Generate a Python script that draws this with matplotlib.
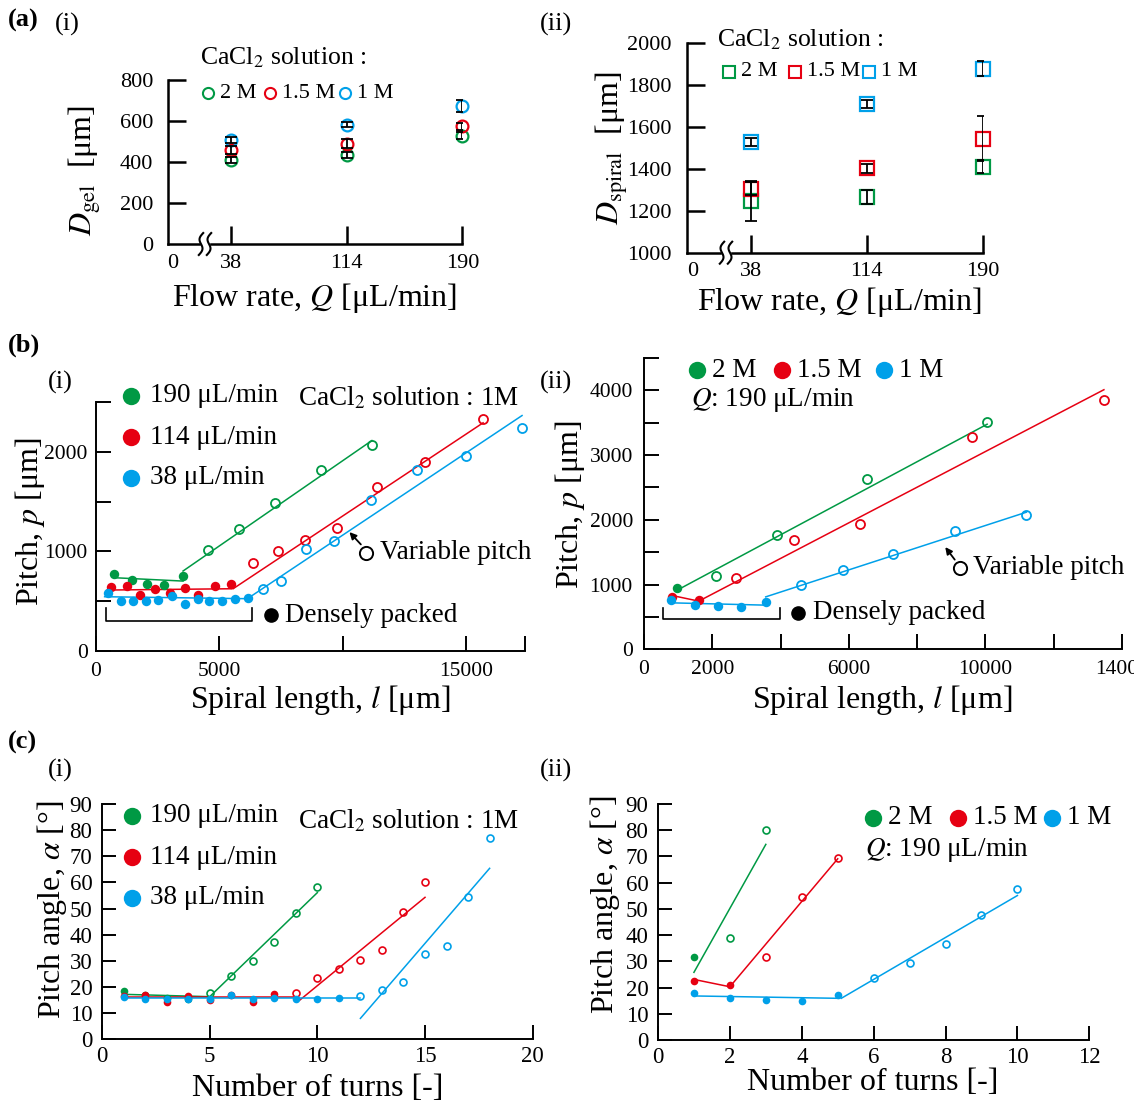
import matplotlib
matplotlib.use("Agg")
import matplotlib.pyplot as plt
import numpy as np
from matplotlib.lines import Line2D

plt.rcParams["font.family"] = ["Liberation Serif", "DejaVu Serif"]
plt.rcParams["mathtext.fontset"] = "stix"

W, H = 1134, 1108
GREEN, RED, BLUE = "#009944", "#E60012", "#00A0E9"

# ---------------- data: (a) diameters vs flow rate
Q = [38, 114, 190]
dgel_2M, dgel_2M_err = [408, 433, 529], [15, 15, 15]
dgel_15M, dgel_15M_err = [457, 490, 574], [20, 20, 18]
dgel_1M, dgel_1M_err = [509, 582, 674], [15, 12, 30]

dsp_2M, dsp_2M_err = [1245, 1266, 1411], [95, 35, 30]
dsp_15M, dsp_15M_err = [1306, 1402, 1544], [30, 20, 107]
dsp_1M, dsp_1M_err = [1527, 1709, 1878], [20, 20, 35]

# ---------------- data: (b)(i) pitch vs spiral length, 1 M CaCl2
l190_dense, p190_dense = [730, 1440, 2080, 2760, 3530], [776, 712, 675, 662, 752]
l190_var, p190_var = [4550, 5800, 7280, 9120, 11190], [1013, 1227, 1481, 1819, 2070]
fit190_l = [[730, 3530], [3530, 11190]]
fit190_p = [[736, 702], [803, 2113]]

l114_dense = [590, 1240, 1790, 2390, 2990, 3620, 4150, 4830, 5490]
p114_dense = [645, 649, 558, 619, 579, 635, 558, 652, 669]
l114_var = [6380, 7390, 8480, 9760, 11400, 13350, 15700]
p114_var = [879, 1003, 1114, 1234, 1642, 1899, 2334]
fit114_l = [[450, 5490], [5560, 15700]]
fit114_p = [[612, 625], [625, 2291]]

l38_dense = [490, 1030, 1520, 2010, 2530, 3070, 3590, 4130, 4600, 5110, 5630, 6150]
p38_dense = [578, 502, 502, 502, 508, 552, 475, 525, 502, 502, 518, 535]
l38_var = [6790, 7490, 8520, 9650, 11170, 13000, 15000, 17280]
p38_var = [619, 702, 1020, 1103, 1515, 1822, 1956, 2240]
fit38_l = [[350, 6200], [6200, 17280]]
fit38_p = [[545, 525], [535, 2364]]

# ---------------- data: (b)(ii) pitch vs spiral length, Q = 190
lb2_dense, pb2_dense = [970], [949]
lb2_var, pb2_var = [2105, 3900, 6520, 10050], [1138, 1769, 2626, 3513]
fitb2_l, fitb2_p = [[970, 10050]], [[913, 3477]]

lb15_dense, pb15_dense = [824, 1604], [810, 769]
lb15_var, pb15_var = [2700, 4400, 6340, 9600, 13470], [1097, 1692, 1933, 3282, 3856]
fitb15_l, fitb15_p = [[824, 1604], [1604, 13470]], [[831, 744], [744, 4010]]

lb1_dense, pb1_dense = [780, 1490, 2170, 2840, 3565], [759, 687, 667, 651, 733]
lb1_var, pb1_var = [4590, 5815, 7300, 9120, 11200], [1000, 1231, 1472, 1820, 2067]
fitb1_l, fitb1_p = [[780, 3565], [3565, 11200]], [[718, 682], [810, 2118]]

# ---------------- data: (c)(i) pitch angle vs number of turns, 1 M
a190 = [18.6, 17.0, 15.7, 15.4, 17.6, 24.2, 30.1, 37.4, 48.2, 58.2]
a190_dense = 4
fitc190_n, fitc190_a = [[1, 5], [5, 10]], [[17.2, 16.3], [16.3, 56.1]]
a114 = [16.6, 17.0, 14.3, 16.6, 15.1, 16.8, 14.3, 17.2, 17.9, 23.5, 27.0, 30.4, 34.2, 48.6, 60.1]
a114_dense = 8
fitc114_n, fitc114_a = [[1, 9], [9.2, 15]], [[16.3, 16.3], [15.1, 54.3]]
a38 = [16.3, 15.3, 15.6, 15.6, 15.5, 17.0, 15.6, 15.7, 15.3, 15.3, 15.7, 16.6,
       18.9, 21.9, 32.7, 35.8, 54.3, 77.0]
a38_dense = 11
fitc38_n, fitc38_a = [[1, 12], [12, 18]], [[15.7, 15.7], [8.0, 65.4]]

# ---------------- data: (c)(ii) pitch angle vs number of turns, Q = 190
ac2 = [31.6, 38.9, 80.0]
ac2_dense = 1
fitc2_n, fitc2_a = [[1, 3]], [[25.8, 74.6]]
ac15 = [22.5, 21.1, 31.6, 54.5, 69.4]
ac15_dense = 2
fitc15_n, fitc15_a = [[1, 2], [2, 5]], [[23.1, 20.3], [20.3, 69.1]]
ac1 = [18.0, 16.0, 15.2, 14.9, 17.2, 23.8, 29.4, 36.6, 47.6, 57.6]
ac1_dense = 5
fitc1_n, fitc1_a = [[1, 5], [5.1, 10]], [[16.8, 15.9], [15.9, 55.1]]

fig = plt.figure(figsize=(W / 100, H / 100), dpi=100)


def add_ax(x0, y0, x1, y1):
    ax = fig.add_axes([x0 / W, 1 - y1 / H, (x1 - x0) / W, (y1 - y0) / H])
    ax.spines[["top", "right"]].set_visible(False)
    ax.patch.set_visible(False)
    return ax


def txt(x, y, s, size, **kw):
    kw.setdefault("va", "center")
    fig.text(x / W, 1 - y / H, s, fontsize=size, **kw)


def dot(x, y, color, ms, filled=True, marker="o"):
    fig.add_artist(Line2D([x / W], [1 - y / H], marker=marker, ls="none", ms=ms,
                          mec=color, mfc=color if filled else "none", mew=1.5,
                          transform=fig.transFigure))


def axis_break(x, y):
    t = np.linspace(-1, 1, 30)
    fig.add_artist(plt.Rectangle(((x - 4) / W, 1 - (y + 2) / H), 8 / W, 4 / H,
                                 color="white", transform=fig.transFigure, zorder=5))
    for dx in (-4, 4):
        xs = x + dx - 2.2 * t + 2.5 * np.sin(np.pi * t)
        ys = y + 11 * t
        fig.add_artist(Line2D(xs / W, 1 - ys / H, color="k", lw=1.5,
                              transform=fig.transFigure, zorder=6))


def series(ax, x, y, n_dense, color, ms, ms_open, mew):
    ax.plot(x[:n_dense], y[:n_dense], "o", color=color, ms=ms, mew=0, zorder=3, clip_on=False)
    ax.plot(x[n_dense:], y[n_dense:], "o", mfc="none", mec=color, ms=ms_open, mew=mew,
            zorder=3, clip_on=False)


def fits(ax, xs, ys, color):
    for fx, fy in zip(xs, ys):
        ax.plot(fx, fy, "-", color=color, lw=1.1, zorder=2)


# ======================= (a)(i)
ax = add_ax(168.3, 80, 462.3, 244)
for v, e, c in [(dgel_2M, dgel_2M_err, GREEN), (dgel_15M, dgel_15M_err, RED),
                (dgel_1M, dgel_1M_err, BLUE)]:
    ax.plot(Q, v, "o", mfc="none", mec=c, ms=8.5, mew=1.6, zorder=2, clip_on=False)
    ax.errorbar(Q, v, yerr=e, fmt="none", ecolor="k", elinewidth=1.3, capsize=4,
                capthick=1.3, zorder=3)
ax.set_xlim(-3, 190)
ax.set_ylim(0, 800)
ax.set_xticks([0, 38, 114, 190], ["0", "38", "114", "190"])
ax.set_yticks([0, 200, 400, 600, 800])
ax.tick_params(direction="in", length=13, width=1.8, labelsize=16)
ax.tick_params(axis="x", pad=7)
ax.tick_params(axis="y", pad=11)
ax.xaxis.get_major_ticks()[0].tick1line.set_visible(False)
ax.yaxis.get_major_ticks()[0].tick1line.set_visible(False)
for s in ax.spines.values():
    s.set_linewidth(1.8)
axis_break(205, 244)

# ======================= (a)(ii)
ax = add_ax(686.7, 43, 982.7, 252.7)
for v, e, c in [(dsp_2M, dsp_2M_err, GREEN), (dsp_15M, dsp_15M_err, RED),
                (dsp_1M, dsp_1M_err, BLUE)]:
    ax.plot(Q, v, "s", mfc="none", mec=c, ms=9.5, mew=1.6, zorder=2, clip_on=False)
    ax.errorbar(Q, v, yerr=e, fmt="none", ecolor="k", elinewidth=1.3, capsize=4,
                capthick=1.3, zorder=3)
ax.set_xlim(-4, 190)
ax.set_ylim(1000, 2000)
ax.set_xticks([0, 38, 114, 190], ["0", "38", "114", "190"])
ax.set_yticks(np.arange(1000, 2001, 200))
ax.tick_params(direction="in", length=13, width=1.8, labelsize=16)
ax.tick_params(axis="x", pad=7)
ax.tick_params(axis="y", pad=11)
ax.xaxis.get_major_ticks()[0].tick1line.set_visible(False)
ax.yaxis.get_major_ticks()[0].tick1line.set_visible(False)
for s in ax.spines.values():
    s.set_linewidth(1.8)
axis_break(726, 252.7)

# ======================= (b)(i)
ax = add_ax(96, 402, 525, 651)
series(ax, l190_dense + l190_var, p190_dense + p190_var, len(l190_dense), GREEN, 6.8, 6.5, 1.3)
series(ax, l114_dense + l114_var, p114_dense + p114_var, len(l114_dense), RED, 6.8, 6.5, 1.3)
series(ax, l38_dense + l38_var, p38_dense + p38_var, len(l38_dense), BLUE, 6.8, 6.5, 1.3)
fits(ax, fit190_l, fit190_p, GREEN)
fits(ax, fit114_l, fit114_p, RED)
fits(ax, fit38_l, fit38_p, BLUE)
ax.plot([422, 422, 6308, 6308], [435, 301, 301, 435], "k-", lw=1.2)
ax.plot([7110], [358], "ko", ms=9.5)
ax.text(7650, 358, "Densely packed", fontsize=19.5, va="center")
ax.plot([10954], [986], "o", mfc="none", mec="k", ms=9.5, mew=1.4)
ax.text(11500, 986, "Variable pitch", fontsize=19.5, va="center")
ax.annotate("", xy=(10278, 1194), xytext=(10743, 1070),
            arrowprops=dict(arrowstyle="-|>", color="k", lw=1.3, mutation_scale=10,
                            shrinkA=0, shrinkB=0))
ax.set_xlim(0, 17400)
ax.set_ylim(0, 2500)
ax.set_xticks([0, 5000, 10000, 15000, 17400], ["0", "5000", "", "15000", ""])
ax.set_yticks(np.arange(0, 2501, 500), ["0", "", "1000", "", "2000", ""])
ax.tick_params(direction="in", length=11, width=1.4, labelsize=15.5)
ax.tick_params(axis="x", pad=8)
ax.tick_params(axis="y", pad=6)
for s in ax.spines.values():
    s.set_linewidth(1.4)

# ======================= (b)(ii)
ax = add_ax(644, 358, 1122, 649.3)
series(ax, lb2_dense + lb2_var, pb2_dense + pb2_var, len(lb2_dense), GREEN, 6.8, 6.5, 1.3)
series(ax, lb15_dense + lb15_var, pb15_dense + pb15_var, len(lb15_dense), RED, 6.8, 6.5, 1.3)
series(ax, lb1_dense + lb1_var, pb1_dense + pb1_var, len(lb1_dense), BLUE, 6.8, 6.5, 1.3)
fits(ax, fitb2_l, fitb2_p, GREEN)
fits(ax, fitb15_l, fitb15_p, RED)
fits(ax, fitb1_l, fitb1_p, BLUE)
ax.plot([557, 557, 3988, 3988], [641, 462, 462, 641], "k-", lw=1.2)
ax.plot([4512], [564], "ko", ms=9.5)
ax.text(4950, 564, "Densely packed", fontsize=19.5, va="center")
ax.plot([9268], [1256], "o", mfc="none", mec="k", ms=9.5, mew=1.4)
ax.text(9650, 1256, "Variable pitch", fontsize=19.5, va="center")
ax.annotate("", xy=(8823, 1579), xytext=(9101, 1385),
            arrowprops=dict(arrowstyle="-|>", color="k", lw=1.3, mutation_scale=10,
                            shrinkA=0, shrinkB=0))
ax.set_xlim(0, 14000)
ax.set_ylim(0, 4500)
ax.set_xticks(np.arange(0, 14001, 2000),
              ["0", "2000", "", "6000", "", "10000", "", "14000"])
ax.set_yticks(np.arange(0, 4501, 500),
              ["0", "", "1000", "", "2000", "", "3000", "", "4000", ""])
ax.tick_params(direction="in", length=11, width=1.4, labelsize=15.5)
ax.tick_params(axis="x", pad=8)
ax.tick_params(axis="y", pad=8)
for s in ax.spines.values():
    s.set_linewidth(1.4)

# ======================= (c)(i)
ax = add_ax(102, 804, 532.7, 1039.3)
series(ax, list(range(1, len(a190) + 1)), a190, a190_dense, GREEN, 5.5, 5, 1.2)
series(ax, list(range(1, len(a114) + 1)), a114, a114_dense, RED, 5.5, 5, 1.2)
series(ax, list(range(1, len(a38) + 1)), a38, a38_dense, BLUE, 5.5, 5, 1.2)
fits(ax, fitc190_n, fitc190_a, GREEN)
fits(ax, fitc114_n, fitc114_a, RED)
fits(ax, fitc38_n, fitc38_a, BLUE)
ax.set_xlim(0, 20)
ax.set_ylim(0, 90)
ax.set_xticks(np.arange(0, 21, 5))
ax.set_yticks(np.arange(0, 91, 10))
ax.tick_params(direction="in", length=10, width=1.4, labelsize=16.5)
ax.tick_params(axis="x", pad=5)
ax.tick_params(axis="y", pad=7)
for s in ax.spines.values():
    s.set_linewidth(1.4)

# ======================= (c)(ii)
ax = add_ax(658, 804, 1089.3, 1040)
series(ax, list(range(1, len(ac2) + 1)), ac2, ac2_dense, GREEN, 5.5, 5, 1.2)
series(ax, list(range(1, len(ac15) + 1)), ac15, ac15_dense, RED, 5.5, 5, 1.2)
series(ax, list(range(1, len(ac1) + 1)), ac1, ac1_dense, BLUE, 5.5, 5, 1.2)
fits(ax, fitc2_n, fitc2_a, GREEN)
fits(ax, fitc15_n, fitc15_a, RED)
fits(ax, fitc1_n, fitc1_a, BLUE)
ax.set_xlim(0, 12)
ax.set_ylim(0, 90)
ax.set_xticks(np.arange(0, 13, 2))
ax.set_yticks(np.arange(0, 91, 10))
ax.tick_params(direction="in", length=10, width=1.4, labelsize=16.5)
ax.tick_params(axis="x", pad=5)
ax.tick_params(axis="y", pad=7)
for s in ax.spines.values():
    s.set_linewidth(1.4)

# ======================= panel labels
txt(8, 20, "(a)", 19, weight="bold")
txt(55, 24, "(i)", 19)
txt(540, 24, "(ii)", 19)
txt(8, 345, "(b)", 19, weight="bold")
txt(48, 382, "(i)", 19)
txt(540, 382, "(ii)", 19)
txt(8, 742, "(c)", 19, weight="bold")
txt(48, 770, "(i)", 19)
txt(540, 770, "(ii)", 19)

# axis titles
txt(315, 298, r"Flow rate, $Q$ [μL/min]", 23, ha="center")
txt(840, 302, r"Flow rate, $Q$ [μL/min]", 23, ha="center")
txt(85, 170, r"$D_{\mathrm{gel}}$  [μm]", 23, ha="center", rotation=90)
txt(612, 148, r"$D_{\mathrm{spiral}}$  [μm]", 23, ha="center", rotation=90)
txt(320, 700, r"Spiral length, $l$ [μm]", 23, ha="center")
txt(882, 700, r"Spiral length, $l$ [μm]", 23, ha="center")
txt(30, 522, r"Pitch, $p$ [μm]", 23, ha="center", rotation=90)
txt(570, 505, r"Pitch, $p$ [μm]", 23, ha="center", rotation=90)
txt(318, 1088, "Number of turns [-]", 23, ha="center")
txt(873, 1083, "Number of turns [-]", 23, ha="center")
txt(52, 910, r"Pitch angle, $\alpha$ [°]", 23, ha="center", rotation=90)
txt(605, 905, r"Pitch angle, $\alpha$ [°]", 23, ha="center", rotation=90)

# legends (a)
txt(200, 58, r"CaCl$_2$ solution :", 18.5)
for x, lab, c in [(208, "2 M", GREEN), (270, "1.5 M", RED), (345, "1 M", BLUE)]:
    dot(x, 93, c, 8, filled=False)
    txt(x + 12, 93, lab, 16)
txt(717, 40, r"CaCl$_2$ solution :", 18.5)
for x, lab, c in [(729, "2 M", GREEN), (795, "1.5 M", RED), (869, "1 M", BLUE)]:
    dot(x, 72, c, 9, filled=False, marker="s")
    txt(x + 12, 72, lab, 16)

# legends (b)
for y, lab, c in [(396, "190 μL/min", GREEN), (437, "114 μL/min", RED), (478, "38 μL/min", BLUE)]:
    dot(131, y, c, 11)
    txt(150, y, lab, 19.5)
txt(298, 398, r"CaCl$_2$ solution : 1M", 19.5)
for x, lab, c in [(697, "2 M", GREEN), (782, "1.5 M", RED), (884, "1 M", BLUE)]:
    dot(x, 370, c, 11)
    txt(x + 15, 370, lab, 19.5)
txt(691, 400, r"$Q$: 190 μL/min", 19.5)

# legends (c)
for y, lab, c in [(816, "190 μL/min", GREEN), (857, "114 μL/min", RED), (898, "38 μL/min", BLUE)]:
    dot(132, y, c, 11)
    txt(150, y, lab, 19.5)
txt(298, 821, r"CaCl$_2$ solution : 1M", 19.5)
for x, lab, c in [(873, "2 M", GREEN), (958, "1.5 M", RED), (1052, "1 M", BLUE)]:
    dot(x, 818, c, 11)
    txt(x + 15, 818, lab, 19.5)
txt(865, 850, r"$Q$: 190 μL/min", 19.5)

fig.savefig("out.png", dpi=100)
